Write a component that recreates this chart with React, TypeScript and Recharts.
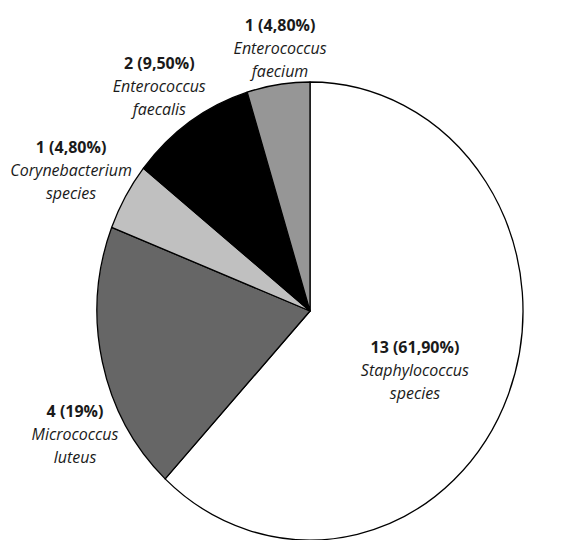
import { Cell, Pie, PieChart } from 'recharts'

const genus = ['Staphylococcus', 'Micrococcus', 'Corynebacterium', 'Enterococcus', 'Enterococcus']
const species = ['species', 'luteus', 'species', 'faecalis', 'faecium']
const counts = [13, 4, 1, 2, 1]
const percentLabels = ['61,90%', '19%', '4,80%', '9,50%', '4,80%']

const colors = ['#ffffff', '#666666', '#c0c0c0', '#000000', '#969696']
// label placement relative to each slice's mid angle (radius factor, angle nudge in degrees)
const labelRadius = [0.556, 1.227, 1.28, 1.21, 1.157]
const labelNudge = [-6.2, 13.1, 1.2, 1.5, -1.6]

const data = counts.map((count, i) => ({
  name: `${genus[i]} ${species[i]}`,
  genus: genus[i],
  species: species[i],
  count,
  pct: percentLabels[i],
  idx: i,
}))

// the original pie is slightly squashed horizontally
const X_SCALE = 213 / 229
const RAD = Math.PI / 180
const FONT = '"Open Sans", sans-serif'

const EllipseSector = (props: any) => {
  const { cx, cy, outerRadius, startAngle, endAngle, fill } = props
  const rx = outerRadius * X_SCALE
  const ry = outerRadius
  const pt = (a: number) => [cx + rx * Math.cos(-a * RAD), cy + ry * Math.sin(-a * RAD)]
  const [x1, y1] = pt(startAngle)
  const [x2, y2] = pt(endAngle)
  const large = Math.abs(endAngle - startAngle) > 180 ? 1 : 0
  const sweep = startAngle > endAngle ? 1 : 0
  const d = `M${cx},${cy} L${x1},${y1} A${rx},${ry} 0 ${large} ${sweep} ${x2},${y2} Z`
  return <path d={d} fill={fill} stroke='#000' strokeWidth={1.3} strokeLinejoin='round' />
}

const renderLabel = (props: any) => {
  const { cx, cy, midAngle, outerRadius, payload } = props
  const p = payload.payload ?? payload
  const k = labelRadius[p.idx]
  const a = (midAngle + labelNudge[p.idx]) * RAD
  const x = cx + outerRadius * X_SCALE * k * Math.cos(-a)
  const y = cy + outerRadius * k * Math.sin(-a)
  return (
    <text
      x={x}
      y={y}
      textAnchor='middle'
      fontFamily={FONT}
      fontSize={16}
      fill='#1a1a1a'
    >
      <tspan x={x} dy={-17} fontWeight='bold'>
        {`${p.count} (${p.pct})`}
      </tspan>
      <tspan x={x} dy={23} fontStyle='italic'>
        {p.genus}
      </tspan>
      <tspan x={x} dy={23} fontStyle='italic'>
        {p.species}
      </tspan>
    </text>
  )
}

export default function App() {
  return (
    <div style={{ position: 'absolute', left: 0, top: 0, background: '#fff' }}>
      <PieChart width={561} height={540} margin={{ top: 0, right: 0, bottom: 0, left: 0 }}>
        <Pie
          data={data}
          dataKey='count'
          nameKey='name'
          cx={310}
          cy={311}
          outerRadius={229}
          startAngle={90}
          endAngle={-270}
          shape={EllipseSector}
          label={renderLabel}
          labelLine={false}
          isAnimationActive={false}
        >
          {data.map((entry, i) => (
            <Cell key={entry.name + i} fill={colors[i]} />
          ))}
        </Pie>
      </PieChart>
    </div>
  )
}
